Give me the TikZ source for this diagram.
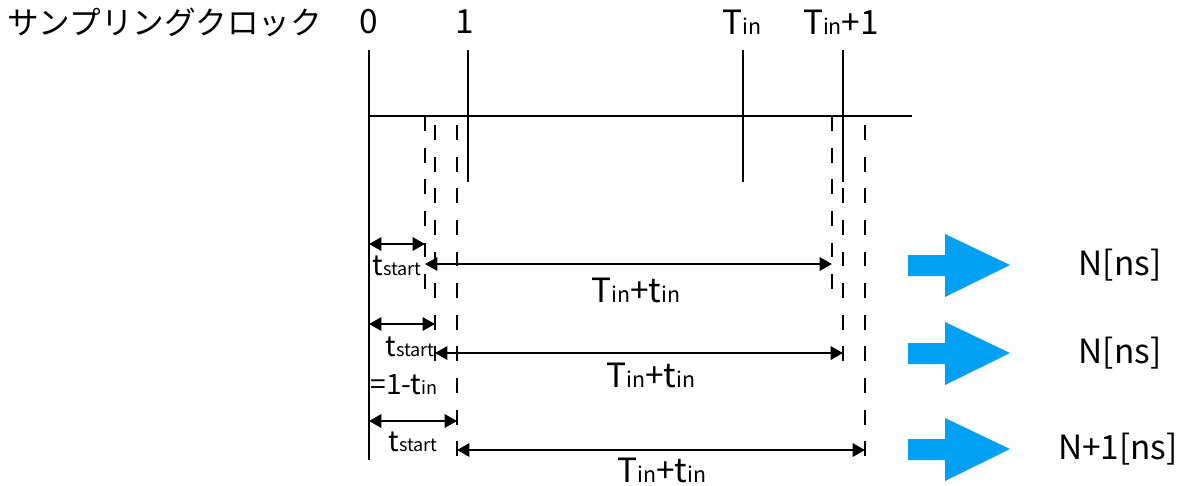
\documentclass[tikz,border=0pt]{standalone}
\usepackage{fontspec}
\setmainfont{Noto Sans CJK JP}
\usepackage{graphicx}
\usetikzlibrary{arrows.meta}

\definecolor{arrowblue}{RGB}{0,160,245}
\newcommand\sbs[1]{\scalebox{0.64}{#1}}
\newcommand\fatarrow[1]{%
  \fill[arrowblue] (#1) ++(0,-10) -- ++(37,0) -- ++(0,-21) -- ++(65,31)
    -- ++(-65,32) -- ++(0,-21) -- ++(-37,0) -- cycle;}

\begin{document}
\begin{tikzpicture}[x=0.02cm, y=-0.02cm,
	every node/.style={font=\fontsize{19}{22}\selectfont, inner sep=0pt},
	clock/.style={line width=1.6pt},
	guide/.style={line width=1.6pt, dash pattern=on 8.5pt off 9.5pt},
	span/.style={line width=1.4pt, {Triangle[length=7pt,width=7.5pt]}-{Triangle[length=7pt,width=7.5pt]}},
	small/.style={font=\fontsize{16}{18}\selectfont}]
	\useasboundingbox (0,0) rectangle (1192,485);

	% clock labels
	\node[anchor=west, font=\fontsize{18}{22}\selectfont] (title) at (7,22) {サンプリングクロック};
	\node (lab0) at (369,22) {0};
	\node (lab1) at (465,22) {1};
	\node (labT) at (742,22) {T\sbs{in}};
	\node (labU) at (841,22) {T\sbs{in}+1};

	% clock ticks and axis
	\coordinate (c0t) at (369,50);  \coordinate (c0b) at (369,460);
	\coordinate (c1t) at (468,50);  \coordinate (c1b) at (468,182);
	\coordinate (cTt) at (743,50);  \coordinate (cTb) at (743,182);
	\coordinate (cUt) at (843,50);  \coordinate (cUb) at (843,182);
	\coordinate (axL) at (369,116); \coordinate (axR) at (912,116);
	\draw[clock] (c0t) -- (c0b);
	\draw[clock] (c1t) -- (c1b);
	\draw[clock] (cTt) -- (cTb);
	\draw[clock] (cUt) -- (cUb);
	\draw[clock] (axL) -- (axR);

	% dashed guides
	\coordinate (gA1) at (425,116); \coordinate (gA2) at (425,290);
	\coordinate (gA3) at (832,116); \coordinate (gA4) at (832,290);
	\coordinate (gB1) at (435,125); \coordinate (gB2) at (435,370);
	\coordinate (gB3) at (843,125); \coordinate (gB4) at (843,370);
	\coordinate (gC1) at (457,125); \coordinate (gC2) at (457,460);
	\coordinate (gC3) at (865,125); \coordinate (gC4) at (865,460);
	\draw[guide] (gA1) -- (gA2);
	\draw[guide] (gA3) -- (gA4);
	\draw[guide] (gB1) -- (gB2);
	\draw[guide] (gB3) -- (gB4);
	\draw[guide] (gC1) -- (gC2);
	\draw[guide] (gC3) -- (gC4);

	% first case
	\coordinate (a0) at (369,244); \coordinate (a1) at (425,244);
	\coordinate (a2) at (425,264); \coordinate (a3) at (832,264);
	\draw[span] (a0) -- (a1);
	\draw[span] (a2) -- (a3);
	\node[small] (sa) at (397,266) {t\sbs{start}};
	\node (ta) at (636,290) {T\sbs{in}+t\sbs{in}};
	\coordinate (fa) at (908,265);
	\fatarrow{fa}
	\node (na) at (1120,265) {N[ns]};

	% second case
	\coordinate (b0) at (369,324); \coordinate (b1) at (435,324);
	\coordinate (b2) at (435,353); \coordinate (b3) at (843,353);
	\draw[span] (b0) -- (b1);
	\draw[span] (b2) -- (b3);
	\node[small] (sb) at (410,347) {t\sbs{start}};
	\node[small] (eb) at (404,385) {=1-t\sbs{in}};
	\node (tb) at (651,375) {T\sbs{in}+t\sbs{in}};
	\coordinate (fb) at (908,353);
	\fatarrow{fb}
	\node (nb) at (1120,353) {N[ns]};

	% third case
	\coordinate (c0) at (369,421); \coordinate (c1) at (457,421);
	\coordinate (c2) at (457,450); \coordinate (c3) at (865,450);
	\draw[span] (c0) -- (c1);
	\draw[span] (c2) -- (c3);
	\node[small] (sc) at (413,442) {t\sbs{start}};
	\node (tc) at (662,470) {T\sbs{in}+t\sbs{in}};
	\coordinate (fc) at (908,449);
	\fatarrow{fc}
	\node (nc) at (1118,449) {N+1[ns]};
\end{tikzpicture}
\end{document}
